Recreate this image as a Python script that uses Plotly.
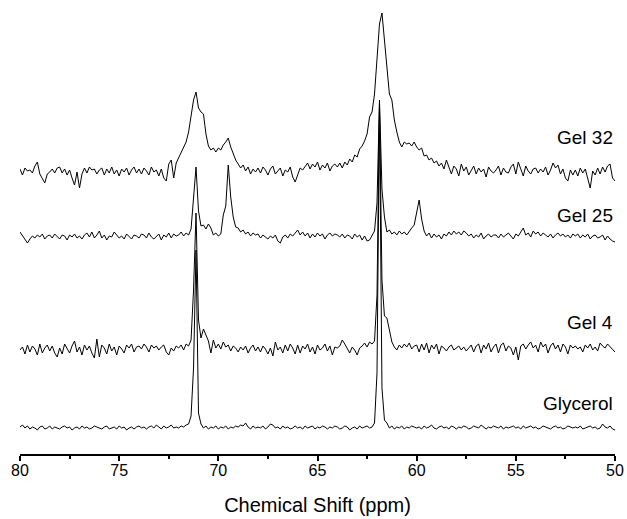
import numpy as np
import plotly.graph_objects as go

# Chemical-shift axis of the spectra (ppm), 0.125 ppm sampling from 80 down to 50
ppm = np.linspace(80, 50, 241)

# Signal intensities (arbitrary units) above each spectrum's own baseline
gel32 = [
    3, -3, 4, 1, 2, -1, 6, 10, -2, -6, -11, -2, 0, 3, -1, 4,
    5, -1, 3, -3, 2, -6, -13, 0, -16, -2, 4, -1, 5, 2, 3, -2,
    2, 4, -3, 3, -1, 5, -2, 2, -4, 3, 0, 4, -3, 2, 5, -1,
    3, -2, 4, 1, -3, 5, 0, 2, -4, 3, -6, -9, 8, 12, -6, 9,
    14, 20, 24, 30, 40, 56, 72, 80, 64, 60, 58, 38, 26, 22, 24, 20,
    24, 22, 27, 30, 34, 25, 18, 12, 8, 4, 7, 1, 5, -2, 3, 0,
    4, -1, 5, 2, -3, 3, 6, -2, 1, 4, -4, 2, 0, 5, -5, -10,
    -3, 4, 2, 6, 9, 3, 8, 5, 10, 2, 7, 4, 9, 1, 6, 8,
    5, 9, 4, 10, 7, 13, 10, 17, 15, 23, 26, 31, 38, 55, 60, 78,
    118, 148, 159, 130, 105, 78, 72, 52, 40, 30, 25, 30, 28, 29, 26, 30,
    25, 22, 24, 16, 17, 12, 14, 9, 11, 6, 9, 3, 12, 4, -2, 6,
    3, -4, 8, 1, 5, -3, 2, 6, -2, 4, 0, 3, -5, 5, 1, -1,
    2, 6, -3, 4, 0, -1, 5, 8, -2, 10, 3, -4, 6, 1, -2, 3,
    4, -1, 3, 0, 5, -3, 2, 9, 4, 7, -2, 3, -6, -9, 2, -3,
    2, -4, 4, -1, 3, -6, -16, 1, -3, 4, -2, 5, 0, 6, 8, -6,
    -9,
]

gel25 = [
    5, 1, -3, -6, -2, 1, -1, 2, 0, 3, -2, 1, 2, -1, 3, 0,
    -2, 2, 1, -3, 2, 0, 3, -1, 1, -2, 2, 4, 0, 5, -1, 2,
    6, -1, 2, -3, 1, 0, 5, 2, -1, 1, -2, 3, 0, -2, 2, 1,
    -1, 3, 2, -1, 4, 0, -2, 1, 3, -3, 2, 0, 4, -1, 3, 1,
    2, 5, 1, 4, 2, 8, 35, 70, 26, 11, 12, 8, 13, 9, 2, 4,
    1, 3, 22, 31, 72, 40, 20, 10, 9, 5, 7, 3, 5, 1, 4, 2,
    3, -1, 2, 0, -2, 1, -1, 2, -4, -6, 0, 2, -1, 3, 1, 4,
    7, 2, 5, 1, 4, -1, 3, 0, 4, 1, 3, -2, 2, 4, 1, 3,
    2, 0, 3, -1, 2, 1, -2, 3, 0, 2, -3, 1, -4, -3, 2, 6,
    34, 137, 48, 20, 5, 7, 3, 5, 2, 6, 3, 5, 2, 6, 9, 12,
    25, 37, 18, 6, 1, 4, -1, 3, 0, 2, -2, 3, 1, 5, 2, 6,
    3, 5, 2, 6, 4, 1, 3, -1, 2, 0, 4, -2, 1, 3, 0, 2,
    2, -1, 3, 0, 2, 4, 1, -2, 3, 1, 5, 9, 2, 4, 0, 6,
    3, 5, 1, 4, 2, 0, 3, -1, 2, 4, 1, 3, 0, 2, -1, 3,
    1, 3, -1, 2, 0, 3, -2, 1, 2, -1, 0, 2, -3, 1, -2, -4,
    -5,
]

gel4 = [
    0, 3, -4, 5, -2, 4, 1, -5, 6, -3, 2, 5, -1, 4, -3, -7,
    2, -4, 6, 1, -3, 4, 9, -2, 3, -5, 5, 0, 4, -3, -8, 11,
    -7, 5, 2, -4, 6, -1, 3, -5, 4, 1, -3, 5, 2, 6, -2, 3,
    4, 1, 6, 3, -2, 5, 2, 4, 0, 3, 5, -2, -5, 2, -1, 4,
    2, 5, 0, 6, 4, 10, 60, 137, 30, 12, 21, 15, 9, -3, 10, 2,
    6, 1, 8, 3, 5, -1, 4, 2, -2, 3, 0, 4, -3, 2, 5, -1,
    3, -2, 4, 1, -4, 2, -6, 8, 0, 3, -3, 5, -1, 6, 2, -4,
    5, -3, 4, 1, 6, -2, 3, -4, 5, 0, 2, 6, -1, 4, -5, 3,
    2, 4, 10, 6, 1, -3, 3, 0, -5, 2, 4, 7, 3, 8, 6, 9,
    55, 247, 70, 34, 32, 20, 8, 3, 0, 5, 2, 6, 3, 7, 1, 4,
    5, -2, 6, 0, 7, -3, 5, 1, 6, -4, 4, 2, -1, 3, 5, 0,
    2, 4, 0, 3, -1, 2, 5, -2, 4, 6, -3, 5, 1, 7, -2, 3,
    6, -3, 5, 7, -1, 4, 2, -5, 3, -10, 4, 6, 1, 5, 8, 2,
    5, -2, 8, 3, 6, -3, 4, 7, 1, 5, -2, 6, 3, -4, 5, 2,
    4, 1, 3, -2, 5, 2, 6, 0, 3, -1, 7, 4, 2, 6, 3, 0,
    -2,
]

glycerol = [
    1, 3, 0, 2, -1, 1, 0, -2, 1, 2, -1, 0, 2, -1, 1, 0,
    -1, 1, 2, 0, 1, -2, 0, 1, -1, 2, 0, 1, -1, 0, 2, 1,
    0, -1, 1, 2, -1, 0, 1, -1, 2, 0, 1, -2, 0, 1, -1, 1,
    2, 0, 1, -1, 1, 2, 0, 3, 1, -1, 2, 0, 1, 3, 0, 1,
    0, 2, 1, 3, 4, 12, 60, 178, 15, 4, 0, 2, -1, 1, 0, 2,
    -1, 1, 0, 2, -1, 1, 0, 2, 1, 3, 2, 5, 1, -1, 2, 0,
    1, 0, 2, -1, 1, 4, 3, 0, 1, -1, 2, 0, 1, -1, 0, 2,
    0, 1, -1, 2, 0, 1, 2, -1, 1, 0, 2, 1, -1, 1, 0, 2,
    1, -1, 0, 2, 1, -2, 0, 1, -1, 2, 0, 1, 2, 0, 1, 5,
    55, 318, 40, 8, 5, 0, 2, -1, 1, 0, 2, -1, 1, 0, 2, 1,
    0, 1, -1, 2, 0, 1, 3, 0, -1, 1, 2, 0, 1, -1, 2, 1,
    -1, 1, 0, 2, 1, -1, 0, 2, 1, 0, 3, 1, -1, 1, 0, 2,
    1, 0, 2, -1, 1, 0, 1, 2, 0, 1, -1, 2, 0, 1, 2, 0,
    1, -1, 0, 2, 1, 0, -1, 1, 2, 0, 1, -1, 0, 2, 1, 0,
    1, 0, 2, -1, 0, 1, 2, 0, 1, -1, 0, 4, 1, 0, 2, -1,
    -2,
]

sample_names = ["Gel 32", "Gel 25", "Gel 4", "Glycerol"]
spectra = [gel32, gel25, gel4, glycerol]

# Vertical stacking of the spectra and where each name sits
stack_offset = [282, 217, 104, 26]
label_height = [317, 239, 132, 51]

FONT = "Arial, Liberation Sans, sans-serif"

fig = go.Figure()
for name, values, off in zip(sample_names, spectra, stack_offset):
    fig.add_trace(go.Scatter(
        x=ppm,
        y=np.asarray(values, dtype=float) + off,
        mode="lines",
        name=name,
        line=dict(color="black", width=1),
        showlegend=False,
    ))

for name, yl in zip(sample_names, label_height):
    fig.add_annotation(
        x=1, xref="paper", y=yl, yref="y",
        text=name, showarrow=False,
        xanchor="right", yanchor="middle", xshift=0,
        font=dict(family=FONT, size=19, color="black"),
    )

fig.update_layout(
    width=627, height=519,
    margin=dict(l=20, r=12, t=0, b=65),
    paper_bgcolor="white", plot_bgcolor="white",
    xaxis=dict(
        range=[80, 50], tick0=50, dtick=5,
        showgrid=False, zeroline=False,
        showline=True, linecolor="black", linewidth=2,
        ticks="outside", ticklen=5, tickwidth=2, tickcolor="black",
        minor=dict(ticks="outside", ticklen=3, tickwidth=2, tickcolor="black",
                   dtick=2.5, tick0=50, showgrid=False),
        ticklabelstandoff=-4,
        tickfont=dict(family=FONT, size=16, color="black"),
        title=dict(text="Chemical Shift (ppm)", standoff=20,
                   font=dict(family=FONT, size=20, color="black")),
        automargin=False,
    ),
    yaxis=dict(range=[0, 454], visible=False, fixedrange=True),
)

fig.write_html("out.html")
